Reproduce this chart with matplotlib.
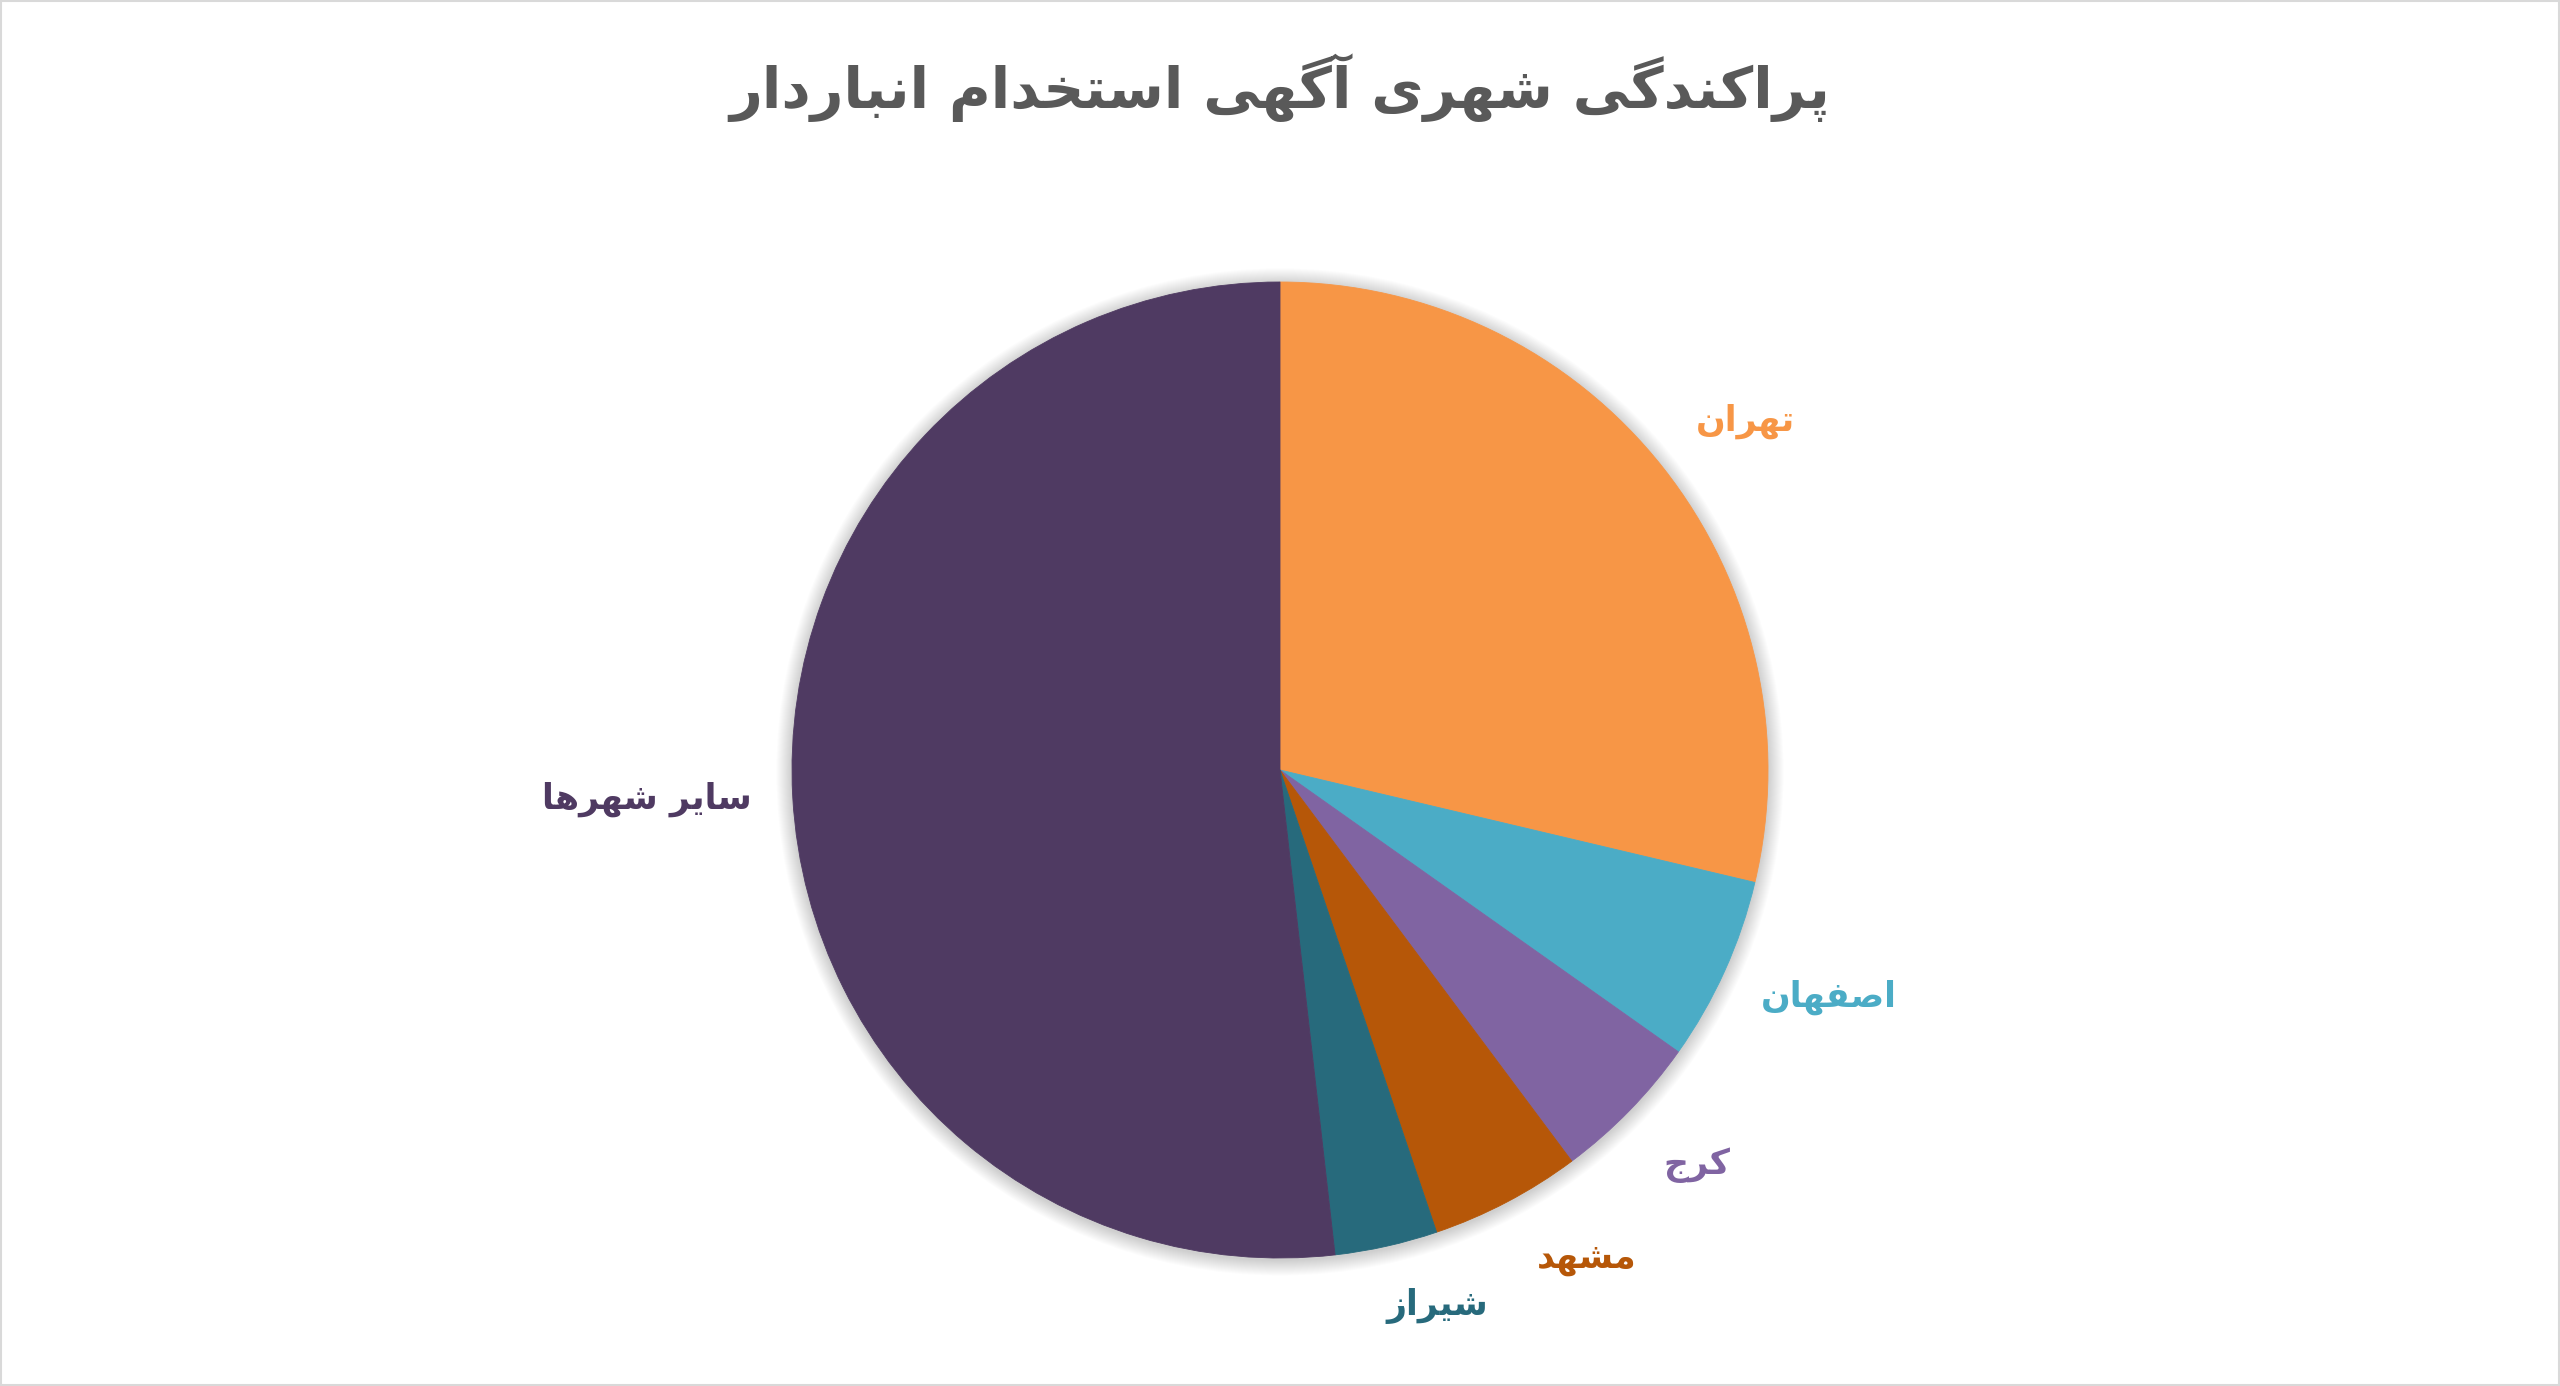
import numpy as np
import matplotlib
matplotlib.use("Agg")
import matplotlib.pyplot as plt
from matplotlib.patches import Circle, Rectangle

# --- data (percent share) ---
cities = ["تهران", "اصفهان", "کرج", "مشهد", "شیراز", "سایر شهرها"]
shares = [28.7, 6.1, 5.0, 5.0, 3.4, 51.8]
colors = ["#F79646", "#4BACC6", "#8064A2", "#B65708", "#276A7C", "#4F3A62"]
title = "پراکندگی شهری آگهی استخدام انباردار"

# label placement: distance from centre (in radii) and angle nudge (deg)
label_dist = [1.193, 1.218, 1.178, 1.183, 1.145, 1.298]
label_nudge = [-1.5, 1.8, 0.8, 4.4, 3.7, -0.6]

# --- tiny Persian shaper: contextual forms + right-to-left order ---
FORMS = {  # isolated, final, initial, medial
    "ا": (0xFE8D, 0xFE8E, None, None),
    "آ": (0xFE81, 0xFE82, None, None),
    "د": (0xFEA9, 0xFEAA, None, None),
    "ر": (0xFEAD, 0xFEAE, None, None),
    "ز": (0xFEAF, 0xFEB0, None, None),
    "ب": (0xFE8F, 0xFE90, 0xFE91, 0xFE92),
    "پ": (0xFB56, 0xFB57, 0xFB58, 0xFB59),
    "ت": (0xFE95, 0xFE96, 0xFE97, 0xFE98),
    "ج": (0xFE9D, 0xFE9E, 0xFE9F, 0xFEA0),
    "خ": (0xFEA5, 0xFEA6, 0xFEA7, 0xFEA8),
    "س": (0xFEB1, 0xFEB2, 0xFEB3, 0xFEB4),
    "ش": (0xFEB5, 0xFEB6, 0xFEB7, 0xFEB8),
    "ص": (0xFEB9, 0xFEBA, 0xFEBB, 0xFEBC),
    "ف": (0xFED1, 0xFED2, 0xFED3, 0xFED4),
    "ک": (0xFB8E, 0xFB8F, 0xFB90, 0xFB91),
    "گ": (0xFB92, 0xFB93, 0xFB94, 0xFB95),
    "م": (0xFEE1, 0xFEE2, 0xFEE3, 0xFEE4),
    "ن": (0xFEE5, 0xFEE6, 0xFEE7, 0xFEE8),
    "ه": (0xFEE9, 0xFEEA, 0xFEEB, 0xFEEC),
    "ی": (0xFBFC, 0xFBFD, 0xFBFE, 0xFBFF),
}


def fa(s):
    out = []
    for i, ch in enumerate(s):
        f = FORMS.get(ch)
        if f is None:
            out.append(ch)
            continue
        prev = s[i - 1] if i > 0 else ""
        nxt = s[i + 1] if i + 1 < len(s) else ""
        join_prev = prev in FORMS and FORMS[prev][2] is not None
        join_next = nxt in FORMS and f[2] is not None
        if join_prev and join_next:
            code = f[3]
        elif join_prev:
            code = f[1]
        elif join_next:
            code = f[2]
        else:
            code = f[0]
        out.append(chr(code))
    return "".join(out)[::-1]


plt.rcParams["font.family"] = ["DejaVu Sans"]

W, H, DPI = 2560, 1386, 100
fig = plt.figure(figsize=(W / DPI, H / DPI), dpi=DPI)
fig.patch.set_facecolor("white")

# pie: radius 488 px, centre at (1280, 770) px from top-left
R, L = 488, 1.25
S = 2 * L * R
cx, cy = 1280, H - 770
ax = fig.add_axes([(cx - S / 2) / W, (cy - S / 2) / H, S / W, S / H])
ax.set_xlim(-L, L); ax.set_ylim(-L, L)
ax.set_aspect("equal"); ax.axis("off")

# soft shadow around the pie
for k in range(16):
    ax.add_patch(Circle((0, -0.004), 1.0 + 0.002 * (16 - k), color="black",
                        alpha=0.013, lw=0, zorder=0))

wedges, _ = ax.pie(shares, colors=colors, startangle=90, counterclock=False,
                   radius=1.0)
for w in wedges:
    w.set_edgecolor(w.get_facecolor())
    w.set_linewidth(0.6)
    w.set_zorder(2)

for w, name, c, d, nd in zip(wedges, cities, colors, label_dist, label_nudge):
    mid = np.deg2rad((w.theta1 + w.theta2) / 2 + nd)
    ax.text(d * np.cos(mid), d * np.sin(mid), fa(name), color=c,
            fontsize=25, fontweight="bold", ha="center", va="center")

fig.text(0.5, 1 - 88 / H, fa(title), color="#595959", fontsize=41,
         fontweight="bold", ha="center", va="center")

# thin frame round the chart area
fig.add_artist(Rectangle((1 / W, 1 / H), 1 - 2 / W, 1 - 2 / H,
                         transform=fig.transFigure, fill=False,
                         edgecolor="#d9d9d9", lw=1.5))

fig.savefig("out.png", dpi=DPI)
